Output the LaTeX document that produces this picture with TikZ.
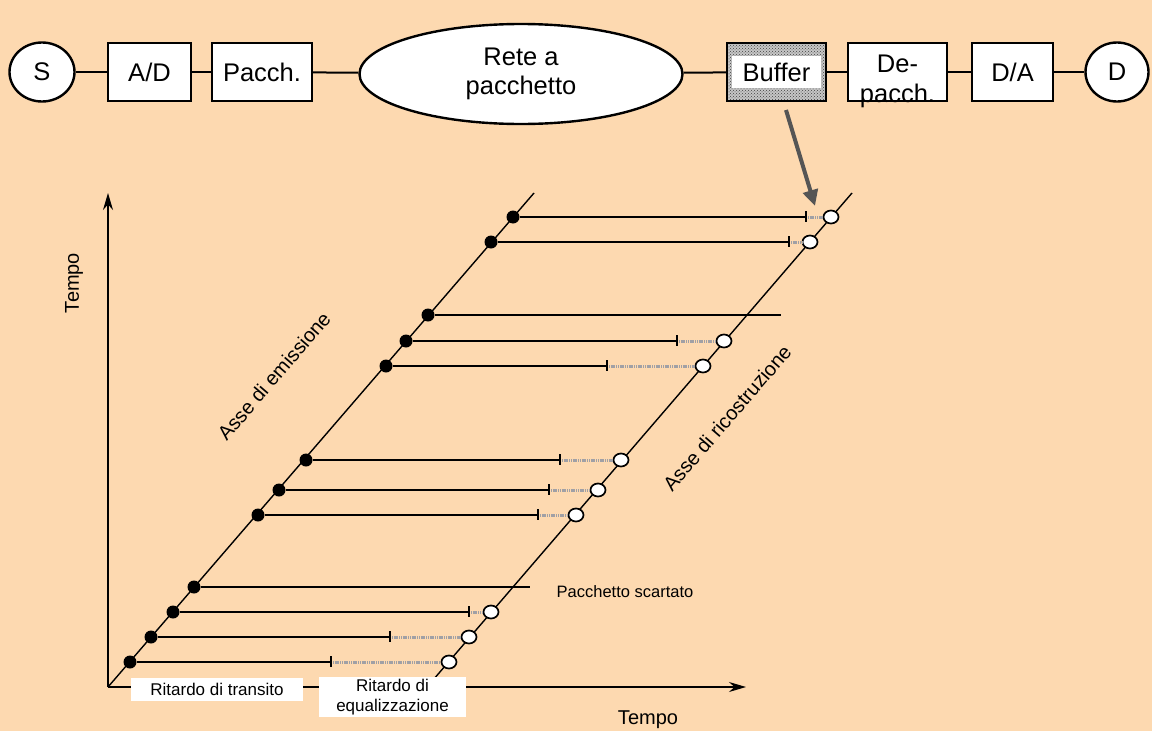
\documentclass[tikz,border=0pt]{standalone}
\usepackage{fontspec}
\setmainfont{Liberation Sans}
\usetikzlibrary{shapes.geometric,patterns,arrows.meta,calc}
\definecolor{bg}{RGB}{253,217,176}
\definecolor{eqgray}{RGB}{160,160,165}
\definecolor{arrgray}{RGB}{85,85,85}
\begin{document}
\begin{tikzpicture}[x=1pt,y=-1pt,
  blk/.style={draw,line width=2.4pt,fill=white,minimum width=83pt,minimum height=58pt,inner sep=0pt,font=\fontsize{25.5}{28}\selectfont},
  oval/.style={draw,line width=2.4pt,fill=white,ellipse,inner sep=0pt,font=\fontsize{25.5}{29}\selectfont,align=center},
  link/.style={line width=2pt},
  axis/.style={line width=1.4pt,-{Stealth[length=17pt,width=10pt]}},
  diag/.style={line width=1.4pt},
  hline/.style={line width=1.4pt},
  eqline/.style={line width=3pt,draw=eqgray,dash pattern=on 1.2pt off 0.6pt},
  tickm/.style={line width=1.4pt},
  dot/.style={circle,fill=black,minimum size=13pt,inner sep=0pt},
  ring/.style={ellipse,draw,line width=1.7pt,fill=white,minimum width=15pt,minimum height=13pt,inner sep=0pt},
  lbl/.style={font=\fontsize{17}{20}\selectfont},
  big/.style={font=\fontsize{20}{23}\selectfont},
  wbox/.style={fill=white,inner sep=0pt,align=center,font=\fontsize{17}{20}\selectfont}
]
\useasboundingbox (0,0) rectangle (1152,731);
\fill[bg] (0,0) rectangle (1152,731);

% ---- top chain ----
\node[oval,minimum width=65pt,minimum height=59pt] (S) at (42,72) {S};
\node[blk] (AD) at (149.5,72) {A/D};
\node[blk,minimum width=100pt] (Pa) at (262,72) {Pacch.};
\node[oval,minimum width=323pt,minimum height=100pt] (Rete) at (521,74) {Rete a\\pacchetto};
\node[draw,line width=2.4pt,minimum width=99pt,minimum height=58pt,inner sep=0pt,preaction={fill=gray!45},pattern=crosshatch dots,pattern color=black!75] (Buf) at (776.5,72) {};
\node[fill=white,inner sep=0pt,minimum width=89pt,minimum height=32pt,font=\fontsize{25.5}{28}\selectfont] (BufT) at (776.5,72) {Buffer};
\node[blk,minimum width=99pt] (De) at (897.5,72) {};
\node[align=center,font=\fontsize{25.5}{30}\selectfont] (DeT) at (897.5,81) {De-\\pacch.};
\node[blk,minimum width=81pt] (DA) at (1012.5,72) {D/A};
\node[oval,minimum width=63pt,minimum height=59pt] (D) at (1117,72) {D};

\draw[link] (S) -- (AD);
\draw[link] (AD) -- (Pa);
\draw[link] (Pa) -- (Rete);
\draw[link] (Rete) -- (Buf);
\draw[link] (Buf) -- (De);
\draw[link] (De) -- (DA);
\draw[link] (DA) -- (D);

% ---- axes ----
\coordinate (O) at (108,687);
\coordinate (Ytop) at (108,193);
\coordinate (Xend) at (746,687);
\draw[axis] (O) -- (Ytop);
\draw[axis] (O) -- (Xend);
\node[big,rotate=90] (Tv) at (74,283) {Tempo};
\node[big] (Th) at (648,720) {Tempo};

% ---- diagonal axes ----
\coordinate (E0) at (108,687);
\coordinate (E1) at (534,193);
\coordinate (R0) at (427,687);
\coordinate (R1) at (852,193);
\draw[diag] (E0) -- (E1);
\draw[diag] (R0) -- (R1);
\node[big,rotate=49.3] (AE) at (274,376) {Asse di emissione};
\node[big,rotate=49.3] (AR) at (727,418) {Asse di ricostruzione};

% ---- packets ----
\foreach \n/\y/\d/\t/\c in {a/217/513/806/831,b/242/491/789/810,c/341/406/677/724,d/366/386/607/703,e/460/306/560/621,f/490/279/549/598,g/515/258/538/576,h/612/173/469/491,i/637/151/390/469,j/662/130/331/449}{
  \coordinate (t\n) at (\t,\y);
  \node[dot] (d\n) at (\d,\y) {};
  \node[ring] (r\n) at (\c,\y) {};
  \draw[eqline] (t\n) -- (r\n.west);
  \draw[hline] (d\n) -- (t\n);
  \draw[tickm] ($(t\n)+(0,-6)$) -- ($(t\n)+(0,5)$);
}
% discarded packets
\coordinate (xk) at (781,315);
\node[dot] (dk) at (428,315) {};
\draw[hline] (dk) -- (xk);
\coordinate (xl) at (530,587);
\node[dot] (dl) at (194,587) {};
\draw[hline] (dl) -- (xl);
\node[lbl,font=\fontsize{16.5}{19}\selectfont] (PS) at (625,592) {Pacchetto scartato};

% ---- delay labels ----
\node[wbox,minimum width=172pt,minimum height=23pt] (RT) at (217,689) {Ritardo di transito};
\node[wbox,minimum width=147pt,minimum height=40pt] (RE) at (392.5,697) {Ritardo di\\equalizzazione};

% ---- buffer arrow ----
\coordinate (BA) at (786,110);
\coordinate (BB) at (815,206);
\draw[line width=4pt,draw=arrgray,-{Triangle[length=16pt,width=15pt]},fill=arrgray] (BA) -- (BB);
\end{tikzpicture}
\end{document}
